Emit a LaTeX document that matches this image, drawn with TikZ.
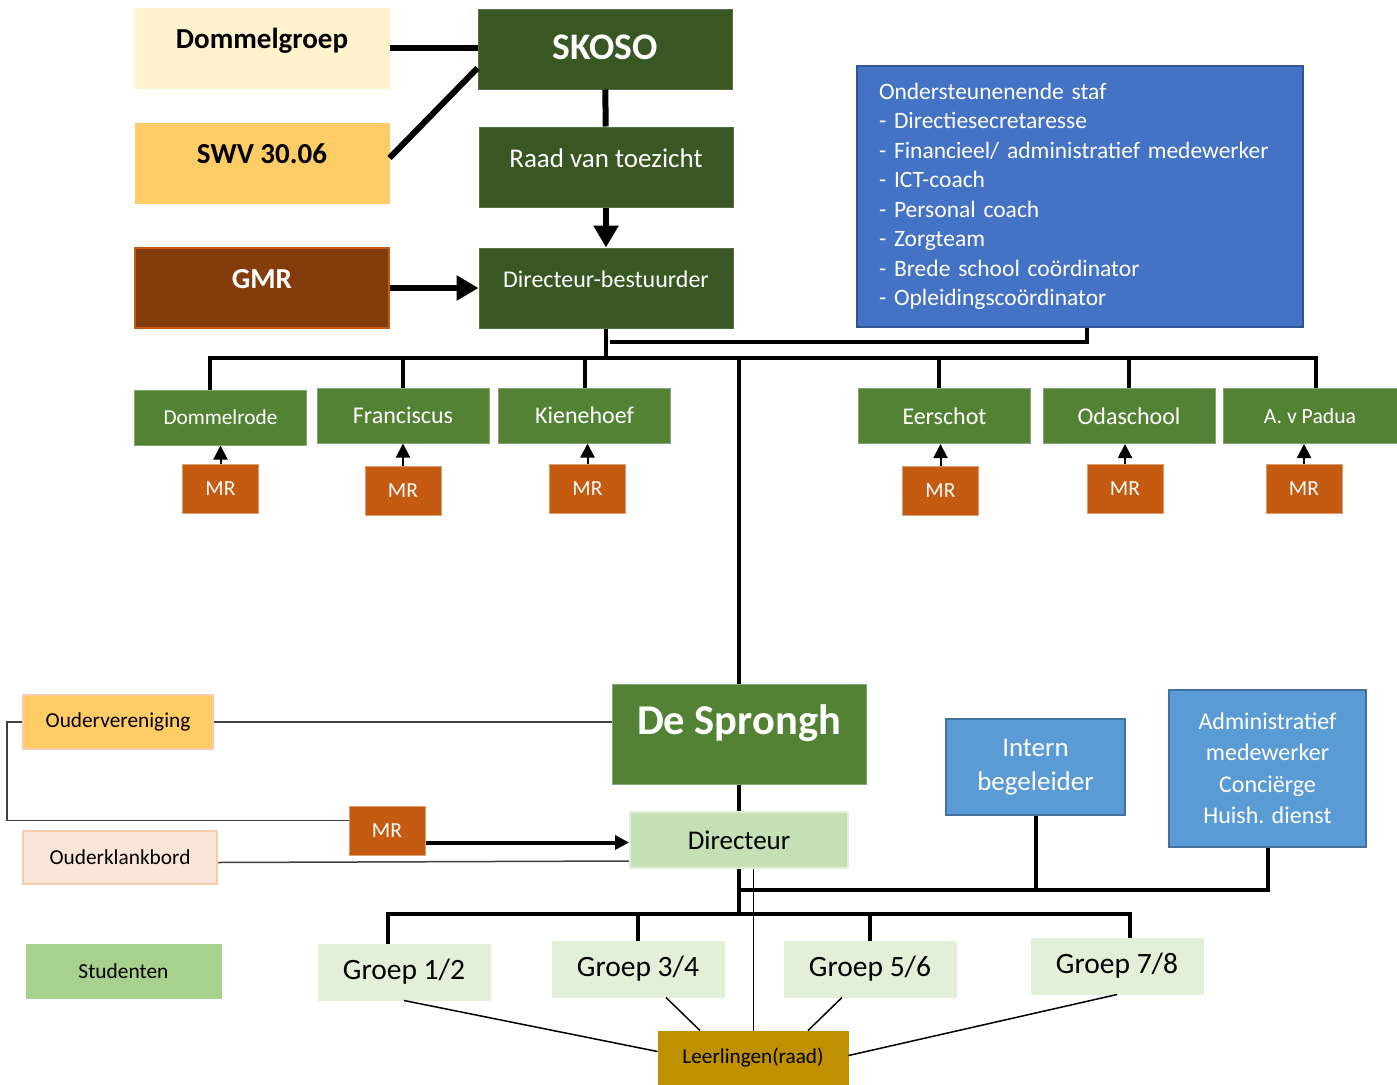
\documentclass[tikz,border=0pt]{standalone}
\usepackage{fontspec}
\setmainfont{Carlito}
\usetikzlibrary{positioning,arrows.meta,calc}

\definecolor{dkgreen}{HTML}{385723}
\definecolor{midgreen}{HTML}{548235}
\definecolor{lgreen}{HTML}{E2F0D9}
\definecolor{dirgreen}{HTML}{C5E0B4}
\definecolor{studgreen}{HTML}{A9D18E}
\definecolor{cream}{HTML}{FFF2CC}
\definecolor{gold}{HTML}{FFCC66}
\definecolor{brown}{HTML}{843C0C}
\definecolor{mrorange}{HTML}{C55A11}
\definecolor{peach}{HTML}{FBE5D6}
\definecolor{peachline}{HTML}{F8CBAD}
\definecolor{stafblue}{HTML}{4472C4}
\definecolor{stafline}{HTML}{2F5597}
\definecolor{ibblue}{HTML}{5B9BD5}
\definecolor{ibline}{HTML}{41719C}
\definecolor{ochre}{HTML}{BF9000}

\tikzset{
box/.style={draw, rectangle, inner sep=0pt, align=center, line width=1pt},
top/.style={box, minimum width=254pt, minimum height=80pt, text height=18pt, text depth=18pt},
dgreen/.style={top, fill=dkgreen, draw=dkgreen!85!white, text=white},
school/.style={box, fill=midgreen, draw=midgreen!70!white, text=white,
  minimum width=172pt, minimum height=55pt, font=\fontsize{24}{28}\selectfont},
mr/.style={box, fill=mrorange, draw=mrorange!60!white, text=white,
  minimum width=76pt, minimum height=49pt, font=\fontsize{21.5}{25}\selectfont},
groep/.style={box, fill=lgreen, draw=lgreen, minimum width=172pt,
  minimum height=56pt, font=\fontsize{29.5}{34}\selectfont},
ouder/.style={box, draw=peachline, line width=2pt, font=\fontsize{21.3}{25}\selectfont},
blue/.style={box, fill=ibblue, draw=ibline, line width=2pt, text=white},
bus/.style={-, line width=4pt},
fat/.style={-, line width=6pt},
thin/.style={-, line width=1.5pt, draw=black!75},
bigarrow/.style={line width=6pt, -{Triangle[length=22pt,width=24pt]}},
mrarrow/.style={line width=2pt, -{Triangle[length=14pt,width=14pt]}},
}

\begin{document}
\begin{tikzpicture}
    [x=1pt, y=-1pt, node distance=73pt]
    \useasboundingbox (0,0) rectangle (1397,1084);

    %top
    \node[top, fill=cream, draw=cream, font=\bfseries\fontsize{29}{33}\selectfont] (dommelgroep) at (262,48) {Dommelgroep};
    \node[top, fill=gold, draw=gold, font=\bfseries\fontsize{29}{33}\selectfont] (swv) at (262,163) {SWV 30.06};
    \node[top, fill=brown, draw=mrorange, line width=2pt, text=white, font=\bfseries\fontsize{29}{33}\selectfont] (gmr) at (262,288) {GMR};
    \node[dgreen, text height=24pt, text depth=3pt, font=\bfseries\fontsize{37.5}{41}\selectfont] (skoso) at (605,49) {SKOSO};
    \node[dgreen, font=\fontsize{27}{31}\selectfont] (raad) at (606,167) {Raad van toezicht};
    \node[dgreen, text depth=20pt, font=\fontsize{24}{28}\selectfont] (dirbest) at (606,288) {Directeur-bestuurder};
    \node[box, fill=stafblue, draw=stafline, line width=2pt, text=white, minimum width=446pt,
      minimum height=261pt, text width=402pt, align=left, font=\fontsize{23.5}{29.5}\selectfont] (staf) at (1080,196.5)
      {Ondersteunenende staf\\- Directiesecretaresse\\- Financieel/ administratief medewerker\\- ICT-coach\\- Personal coach\\- Zorgteam\\- Brede school co\"ordinator\\- Opleidingsco\"ordinator};

    %schools
    \node[school, font=\fontsize{21.3}{25}\selectfont] (dommelrode) at (220.5,417.5) {Dommelrode};
    \node[school] (franciscus) at (403,415.5) {Franciscus};
    \node[school] (kienehoef) at (584.5,415.5) {Kienehoef};
    \node[school] (eerschot) at (944.5,416) {Eerschot};
    \node[school] (odaschool) at (1129,416) {Odaschool};
    \node[school, minimum width=174pt, font=\fontsize{21.7}{25}\selectfont] (padua) at (1310,416) {A. v Padua};

    %mr below schools
    \node[mr,below of=dommelrode,yshift=2pt] (mr1) {MR};
    \node[mr,below of=franciscus,yshift=-2pt] (mr2) {MR};
    \node[mr,below of=kienehoef,xshift=3pt] (mr3) {MR};
    \node[mr,below of=eerschot,yshift=-2pt,xshift=-4pt] (mr4) {MR};
    \node[mr,below of=odaschool,xshift=-4pt] (mr5) {MR};
    \node[mr,below of=padua,xshift=-6pt] (mr6) {MR};

    %de sprongh
    \node[box, fill=midgreen, draw=midgreen!70!white, text=white, minimum width=254pt, minimum height=100pt,
      text height=28pt, text depth=28pt, font=\bfseries\fontsize{42.5}{46}\selectfont] (desprongh) at (739,734) {De Sprongh};
    \node[ouder, fill=gold, minimum width=190pt, minimum height=54pt] (ouderver) at (118,722) {Oudervereniging};
    \node[ouder, fill=peach, minimum width=194pt, minimum height=53pt] (ouderklank) at (120,857.5) {Ouderklankbord};
    \node[mr] (mrds) at (387,830.5) {MR};
    \node[box, fill=dirgreen, draw=lgreen, line width=2pt, minimum width=218pt, minimum height=56pt,
      font=\fontsize{27}{31}\selectfont] (directeur) at (739,840) {Directeur};
    \node[blue, minimum width=179pt, minimum height=96pt, font=\fontsize{27}{34}\selectfont] (intern) at (1035.5,767) {Intern\\begeleider};
    \node[blue, minimum width=197pt, minimum height=157pt, font=\fontsize{24}{31.5}\selectfont] (admin) at (1267.5,768.5)
      {Administratief\\medewerker\\Conci\"erge\\Huish. dienst};

    %groepen
    \node[box, fill=studgreen, draw=studgreen, minimum width=195pt, minimum height=54pt,
      font=\fontsize{21.4}{25}\selectfont] (studenten) at (123.5,971) {Studenten};
    \node[groep] (groep12) at (404,972) {Groep 1/2};
    \node[groep] (groep34) at (638,969) {Groep 3/4};
    \node[groep] (groep56) at (870,969) {Groep 5/6};
    \node[groep] (groep78) at (1117,966) {Groep 7/8};
    \node[box, fill=ochre, draw=ochre, minimum width=190pt, minimum height=53pt,
      font=\fontsize{21.2}{25}\selectfont] (leerlingen) at (753,1057.5) {Leerlingen(raad)};

    \coordinate (bus) at (0,358);
    \coordinate (sbus) at (0,890);
    \coordinate (gbus) at (0,914);

    %top lines
    \draw[fat] (dommelgroep.east) -- (dommelgroep.east -| skoso.west);
    \draw[fat] ([yshift=5pt]swv.east) -- ([yshift=-19pt]skoso.west);
    \draw[fat] (skoso) -- (raad);
    \draw[bigarrow] (raad) -- (dirbest);
    \draw[bigarrow] (gmr) -- (dirbest);

    %bus to schools
    \draw[bus] (dirbest.south) -- (dirbest.south |- bus);
    \draw[bus] ([xshift=-11pt]dommelrode.north) -- ([xshift=-11pt]dommelrode.north |- bus) -| ([xshift=6pt]padua.north);
    \draw[bus] (franciscus.north) -- (franciscus.north |- bus);
    \draw[bus] (kienehoef.north) -- (kienehoef.north |- bus);
    \draw[bus] ([xshift=-6pt]eerschot.north) -- ([xshift=-6pt]eerschot.north |- bus);
    \draw[bus] (odaschool.north) -- (odaschool.north |- bus);
    \draw[bus] (desprongh.north) -- (desprongh.north |- bus);
    \draw[bus] ([xshift=7pt]staf.south) |- ($(dirbest.south)+(4,13)$);

    %mr arrows
    \draw[mrarrow] (mr1.north) -- (mr1.north |- dommelrode.south);
    \draw[mrarrow] (mr2.north) -- (mr2.north |- franciscus.south);
    \draw[mrarrow] (mr3.north) -- (mr3.north |- kienehoef.south);
    \draw[mrarrow] (mr4.north) -- (mr4.north |- eerschot.south);
    \draw[mrarrow] (mr5.north) -- (mr5.north |- odaschool.south);
    \draw[mrarrow] (mr6.north) -- (mr6.north |- padua.south);

    %de sprongh lines
    \draw[thin] (ouderver.east) -- (ouderver.east -| desprongh.west);
    \draw[thin] (ouderver.west) -- ++(-15,0) |- ([yshift=10pt]mrds.west);
    \draw[line width=4pt, -{Triangle[length=14pt,width=14pt]}] ([yshift=-12pt]mrds.east) -- ([yshift=-12pt]mrds.east -| directeur.west);
    \draw[thin] ([yshift=-5pt]ouderklank.east) -- ([yshift=-21pt]directeur.west);
    \draw[bus] (desprongh) -- (directeur);

    %staff and groepen
    \draw[bus] (directeur.south) -- (directeur.south |- gbus);
    \draw[bus] (intern.south) -- (intern.south |- sbus);
    \draw[bus] (admin.south) |- (directeur.south |- sbus);
    \draw[bus] ([xshift=-16pt]groep12.north) -- ([xshift=-16pt]groep12.north |- gbus) -| ([xshift=13pt]groep78.north);
    \draw[bus] (groep34.north) -- (groep34.north |- gbus);
    \draw[bus] (groep56.north) -- (groep56.north |- gbus);
    \draw[-, line width=1pt] (leerlingen.north) -- (leerlingen.north |- directeur.south);
    \draw[-, line width=1.5pt] (groep12.south) -- ([yshift=6pt]leerlingen.west);
    \draw[-, line width=1.5pt] ([xshift=28pt]groep34.south) -- ([xshift=-53pt]leerlingen.north);
    \draw[-, line width=1.5pt] ([xshift=-28pt]groep56.south) -- ([xshift=55pt]leerlingen.north);
    \draw[-, line width=1.5pt] (groep78.south) -- ([yshift=2pt]leerlingen.east);

\end{tikzpicture}
\end{document}
